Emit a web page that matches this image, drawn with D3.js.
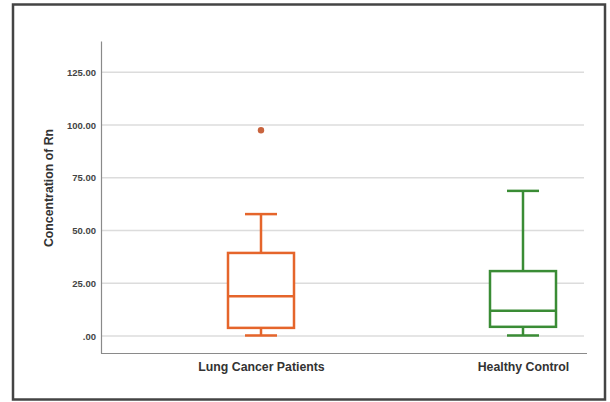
<!DOCTYPE html>
<html>
<head>
<meta charset="utf-8">
<script src="https://cdn.jsdelivr.net/npm/d3@7"></script>
<style>
  html, body { margin: 0; padding: 0; background: #fff; }
  svg { display: block; }
</style>
</head>
<body>
<svg id="chart" width="610" height="402"></svg>
<script>
// Groups and their five-number summaries (Rn concentration)
const categories = ["Lung Cancer Patients", "Healthy Control"];
const whiskerLow = [0.3, 0.3];
const q1 = [3.9, 4.4];
const median = [18.9, 12.0];
const q3 = [39.4, 30.8];
const whiskerHigh = [57.8, 68.8];
const outliers = [[97.5], []];
const colors = ["#e5652b", "#3a8c35"];
const outlierColor = "#c9643e";
const tickValues = [0, 25, 50, 75, 100, 125];
const tickLabels = [".00", "25.00", "50.00", "75.00", "100.00", "125.00"];
const yTitle = "Concentration of Rn";

const svg = d3.select("#chart");

// frame around the whole figure
svg.append("rect")
  .attr("x", 13).attr("y", 4.5)
  .attr("width", 592).attr("height", 395)
  .attr("fill", "#fff").attr("stroke", "#444").attr("stroke-width", 2.5);

const plotLeft = 101, plotRight = 587, plotTop = 41, plotBottom = 353;

const y = d3.scaleLinear().domain([-8, 139.8]).range([plotBottom, plotTop]);
const x = d3.scalePoint().domain(categories).range([261, 523]);

// gridlines
svg.append("g").selectAll("line").data(tickValues).join("line")
  .attr("x1", plotLeft + 1).attr("x2", plotRight - 3)
  .attr("y1", d => y(d)).attr("y2", d => y(d))
  .attr("stroke", "#dcdcdc").attr("stroke-width", 1.5);

// y axis
const yAxis = d3.axisLeft(y).tickValues(tickValues)
  .tickFormat((d, i) => tickLabels[i]).tickSize(0).tickPadding(5);
const gy = svg.append("g").attr("transform", `translate(${plotLeft},0)`).call(yAxis);
gy.select(".domain").attr("stroke", "#8a8a8a").attr("stroke-width", 1.2);
gy.selectAll("text")
  .attr("font-family", "'Liberation Sans Narrow', 'Liberation Sans', Arial, sans-serif")
  .attr("font-size", 9.5).attr("font-weight", "bold").attr("fill", "#444");

// x axis
const xAxis = d3.axisBottom(x).tickSize(0).tickPadding(9);
const gx = svg.append("g").attr("transform", `translate(0,${plotBottom})`).call(xAxis);
gx.select(".domain").attr("d", `M${plotLeft},0.5H${plotRight}`)
  .attr("stroke", "#8a8a8a").attr("stroke-width", 1.2);
gx.selectAll("text")
  .attr("font-family", "'Liberation Sans', Arial, sans-serif")
  .attr("font-size", 12.3).attr("font-weight", "bold").attr("fill", "#333");

// y axis title
svg.append("text")
  .attr("transform", `translate(53,188) rotate(-90)`)
  .attr("text-anchor", "middle")
  .attr("font-family", "'Liberation Sans', Arial, sans-serif")
  .attr("font-size", 12.3).attr("font-weight", "bold").attr("fill", "#333")
  .text(yTitle);

// boxes
const boxW = 66, capW = 32;
const groups = svg.append("g").selectAll("g")
  .data(categories.map((c, i) => ({
    c, lo: whiskerLow[i], q1: q1[i], med: median[i], q3: q3[i], hi: whiskerHigh[i],
    out: outliers[i], color: colors[i]
  })))
  .join("g")
  .attr("fill", "none")
  .attr("stroke", d => d.color)
  .attr("stroke-width", 2.5);

groups.append("line")
  .attr("x1", d => x(d.c)).attr("x2", d => x(d.c))
  .attr("y1", d => y(d.q3)).attr("y2", d => y(d.hi));
groups.append("line")
  .attr("x1", d => x(d.c)).attr("x2", d => x(d.c))
  .attr("y1", d => y(d.lo)).attr("y2", d => y(d.q1));
groups.append("line")
  .attr("x1", d => x(d.c) - capW / 2).attr("x2", d => x(d.c) + capW / 2)
  .attr("y1", d => y(d.hi)).attr("y2", d => y(d.hi));
groups.append("line")
  .attr("x1", d => x(d.c) - capW / 2).attr("x2", d => x(d.c) + capW / 2)
  .attr("y1", d => y(d.lo)).attr("y2", d => y(d.lo));
groups.append("rect")
  .attr("x", d => x(d.c) - boxW / 2).attr("width", boxW)
  .attr("y", d => y(d.q3)).attr("height", d => y(d.q1) - y(d.q3))
  .attr("fill", "#fff");
groups.append("line")
  .attr("x1", d => x(d.c) - boxW / 2).attr("x2", d => x(d.c) + boxW / 2)
  .attr("y1", d => y(d.med)).attr("y2", d => y(d.med));

// outliers
groups.selectAll("circle").data(d => d.out.map(v => ({ v, c: d.c }))).join("circle")
  .attr("cx", d => x(d.c)).attr("cy", d => y(d.v)).attr("r", 3.2)
  .attr("fill", outlierColor).attr("stroke", "none");
</script>
</body>
</html>
